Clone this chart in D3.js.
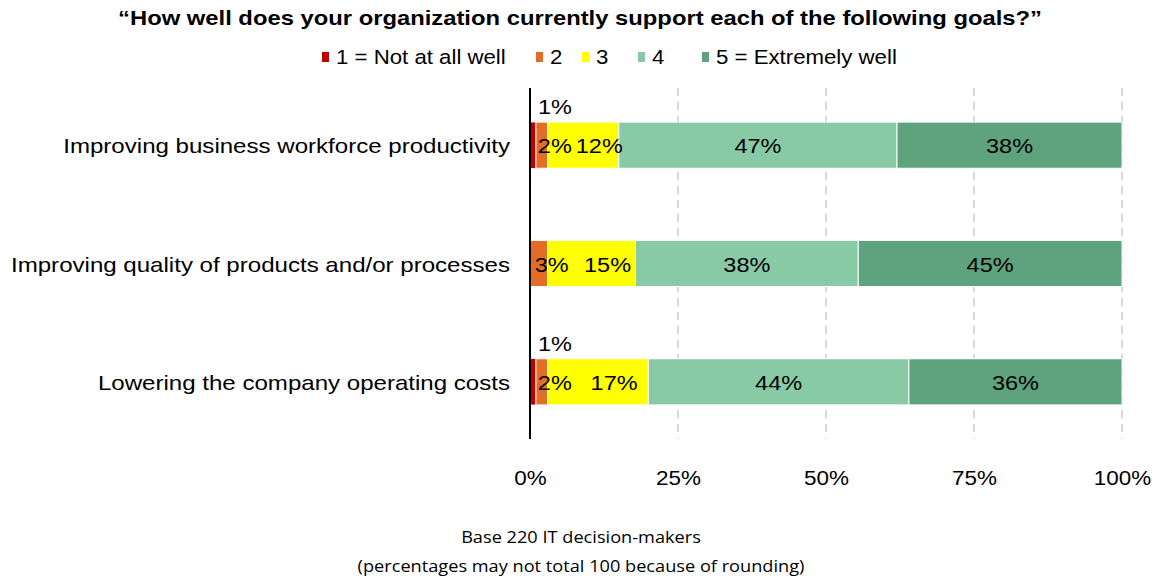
<!DOCTYPE html>
<html>
<head>
<meta charset="utf-8">
<script src="https://cdn.jsdelivr.net/npm/d3@7/dist/d3.min.js"></script>
<style>
  html, body { margin: 0; padding: 0; background: #fff; }
  svg { display: block; }
</style>
</head>
<body>
<svg id="chart" width="1158" height="581"></svg>
<script>
// Survey goals (rows, top to bottom)
const goals = [
  "Improving business workforce productivity",
  "Improving quality of products and/or processes",
  "Lowering the company operating costs"
];

// Rating levels and their legend labels
const levels = ["r1", "r2", "r3", "r4", "r5"];
const levelLabels = ["1 = Not at all well", "2", "3", "4", "5 = Extremely well"];

// Share of respondents (%) per rating, one array per level, in goal order
const rating1 = [1, 0, 1];
const rating2 = [2, 3, 2];
const rating3 = [12, 15, 17];
const rating4 = [47, 38, 44];
const rating5 = [38, 45, 36];

const tickValues = [0, 0.25, 0.5, 0.75, 1];

const title = "\u201CHow well does your organization currently support each of the following goals?\u201D";
const footnotes = ["Base 220 IT decision-makers", "(percentages may not total 100 because of rounding)"];

const colors = ["#c00000", "#e46c24", "#ffff00", "#88caa5", "#5fa27e"];

// Build rows for the stack
const seriesArrays = [rating1, rating2, rating3, rating4, rating5];
const rows = goals.map((g, i) => {
  const r = { goal: g };
  levels.forEach((k, j) => { r[k] = seriesArrays[j][i]; });
  return r;
});

const svg = d3.select("#chart");
const x0 = 530, x1 = 1122;
const SANS = "Liberation Sans, Arial, sans-serif";

const x = d3.scaleLinear().domain([0, 1]).range([x0, x1]);
const y = d3.scaleBand().domain(goals).range([86, 441])
  .paddingInner(0.61).paddingOuter(0.305);
const color = d3.scaleOrdinal().domain(levels).range(colors);

const stack = d3.stack().keys(levels).offset(d3.stackOffsetExpand);
const stacked = stack(rows);

// Widen text horizontally about its anchor point
function widen(sel, sx) {
  sel.each(function () {
    const t = d3.select(this);
    const tx = +t.attr("x") || 0, ty = +t.attr("y") || 0;
    t.attr("x", 0).attr("y", 0)
     .attr("transform", `translate(${tx},${ty}) scale(${sx},1)`);
  });
}

// Title
svg.append("text")
  .attr("x", 580).attr("y", 25)
  .attr("text-anchor", "middle")
  .style("font-family", SANS)
  .style("font-weight", "bold")
  .style("font-size", "19.5px")
  .attr("fill", "#000")
  .text(title)
  .call(widen, 1.22);

// Legend
const legendX = [322, 536, 582, 638, 702];
const legend = svg.append("g")
  .style("font-family", SANS)
  .style("font-size", "19.5px");
levels.forEach((k, j) => {
  const g = legend.append("g").attr("transform", `translate(${legendX[j]},57)`);
  g.append("rect").attr("x", 0).attr("y", -5).attr("width", 7).attr("height", 10)
    .attr("fill", color(k));
  g.append("text").attr("x", 14).attr("y", 7)
    .attr("fill", "#000").text(levelLabels[j])
    .call(widen, 1.14);
});

// Dashed gridlines
svg.append("g")
  .selectAll("line")
  .data(tickValues.filter(d => d > 0))
  .join("line")
  .attr("x1", d => x(d)).attr("x2", d => x(d))
  .attr("y1", 88).attr("y2", 439)
  .attr("stroke", "#c0c0c0")
  .attr("stroke-width", 1.2)
  .attr("stroke-dasharray", "8,6");

// Bars
const barG = svg.append("g");
stacked.forEach((layer, j) => {
  barG.append("g")
    .selectAll("rect")
    .data(layer)
    .join("rect")
    .attr("x", d => x(d[0]))
    .attr("y", d => y(d.data.goal))
    .attr("width", d => Math.max(0, x(d[1]) - x(d[0])))
    .attr("height", y.bandwidth())
    .attr("fill", color(levels[j]))
    .attr("stroke", "#fff")
    .attr("stroke-width", d => (d[1] - d[0]) > 0.015 ? 1 : 0.5);
});

// Label nudges for the thin segments at the start of each bar
const nudge = {
  r1: { dx: 22, dy: -39 },
  r2: { dx: 13, dy: 0 },
  r3: { dx: 16, dy: 0 }
};

const labelG = svg.append("g")
  .style("font-family", SANS)
  .style("font-size", "21px");
stacked.forEach((layer, j) => {
  const k = levels[j];
  const n = nudge[k] || { dx: 0, dy: 0 };
  labelG.append("g")
    .selectAll("text")
    .data(layer.filter(d => d.data[k] > 0))
    .join("text")
    .attr("x", d => (x(d[0]) + x(d[1])) / 2 + n.dx)
    .attr("y", d => y(d.data.goal) + y.bandwidth() / 2 + 8 + n.dy)
    .attr("text-anchor", "middle")
    .attr("fill", "#000")
    .text(d => d.data[k] + "%")
    .call(widen, 1.12);
});

// Category axis line
svg.append("line")
  .attr("x1", x0).attr("x2", x0)
  .attr("y1", 88).attr("y2", 439)
  .attr("stroke", "#000").attr("stroke-width", 2);

// Category labels
svg.append("g")
  .style("font-family", SANS)
  .style("font-size", "21px")
  .selectAll("text")
  .data(goals)
  .join("text")
  .attr("x", 510)
  .attr("y", d => y(d) + y.bandwidth() / 2 + 8)
  .attr("text-anchor", "end")
  .attr("fill", "#000")
  .text(d => d)
  .call(widen, 1.147);

// Value axis (tick labels only)
const xAxis = d3.axisBottom(x).tickValues(tickValues)
  .tickFormat(d3.format(".0%")).tickSize(0).tickPadding(0);
const axG = svg.append("g").attr("transform", "translate(0,470)").call(xAxis);
axG.select(".domain").remove();
axG.selectAll("text")
  .style("font-family", SANS)
  .style("font-size", "21px")
  .attr("fill", "#000")
  .attr("transform", "scale(1.07,1)");

// Footnotes
svg.append("g")
  .style("font-family", "Open Sans, sans-serif")
  .style("font-size", "17px")
  .selectAll("text")
  .data(footnotes)
  .join("text")
  .attr("x", 581)
  .attr("y", (d, i) => 543 + i * 29)
  .attr("text-anchor", "middle")
  .attr("fill", "#000")
  .text(d => d)
  .call(widen, 1.07);
</script>
</body>
</html>
